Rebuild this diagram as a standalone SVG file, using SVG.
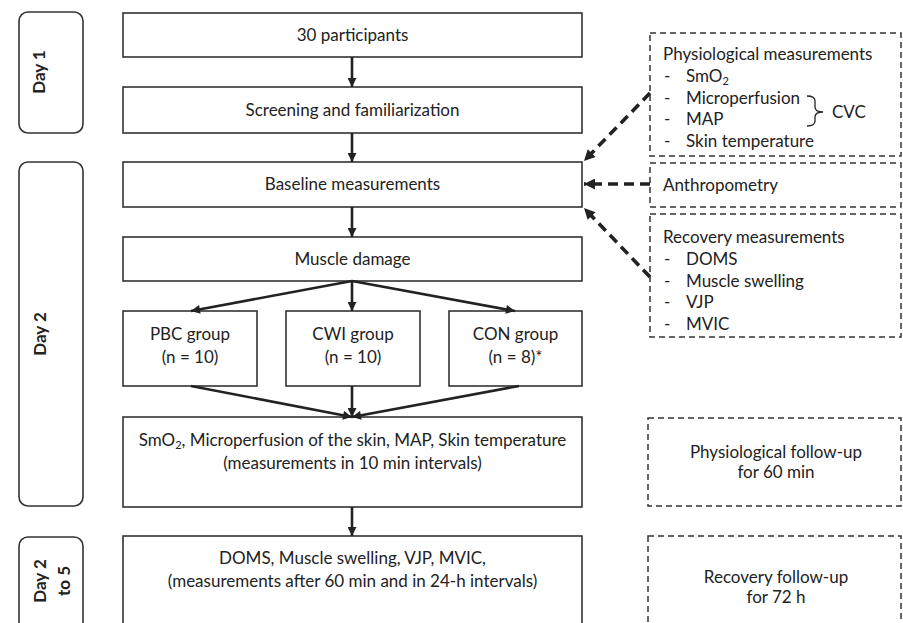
<svg xmlns="http://www.w3.org/2000/svg" width="903" height="623" viewBox="0 0 903 623">
<defs>
<style>
.box{fill:#fff;stroke:#333;stroke-width:1.6}
.day{fill:#fff;stroke:#333;stroke-width:1.6}
.dbox{fill:#fff;stroke:#333;stroke-width:1.5;stroke-dasharray:6 4}
.t{font-family:Lato,"Open Sans",sans-serif;font-size:17px;fill:#222}
.c{text-anchor:middle}
.dt{font-family:Lato,"Open Sans",sans-serif;font-size:17px;font-weight:bold;fill:#222;text-anchor:middle}
.arr{stroke:#222;stroke-width:2.6;fill:none;marker-end:url(#ah)}
.darr{stroke:#222;stroke-width:3.6;fill:none;stroke-dasharray:10 6;marker-end:url(#dh)}
</style>
<marker id="ah" viewBox="0 0 10 10" refX="10" refY="5" markerUnits="userSpaceOnUse" markerWidth="10" markerHeight="9" orient="auto"><path d="M0,0 L10,5 L0,10 z" fill="#222"/></marker>
<marker id="dh" viewBox="0 0 10 10" refX="10" refY="5" markerUnits="userSpaceOnUse" markerWidth="12" markerHeight="11" orient="auto"><path d="M0,0 L10,5 L0,10 z" fill="#222"/></marker>
</defs>
<rect width="903" height="623" fill="#fff"/>

<g id="day1"><rect class="day" x="19" y="12" width="64" height="121" rx="9"/><text class="dt" transform="translate(45,72) rotate(-90)">Day 1</text></g>
<g id="day2"><rect class="day" x="19" y="162" width="64" height="344" rx="9"/><text class="dt" transform="translate(46,334) rotate(-90)">Day 2</text></g>
<g id="day2to5"><rect class="day" x="19" y="537" width="64" height="110" rx="9"/><text class="dt" transform="translate(46,581) rotate(-90)">Day 2</text><text class="dt" transform="translate(70,581) rotate(-90)">to 5</text></g>

<g id="participants"><rect class="box" x="123" y="13" width="459" height="44"/><text class="t c" x="352.5" y="41">30 participants</text></g>
<g id="screening"><rect class="box" x="123" y="87" width="459" height="46"/><text class="t c" x="352.5" y="116">Screening and familiarization</text></g>
<g id="baseline"><rect class="box" x="123" y="162" width="459" height="45"/><text class="t c" x="352.5" y="190">Baseline measurements</text></g>
<g id="damage"><rect class="box" x="123" y="237" width="459" height="44"/><text class="t c" x="352.5" y="265">Muscle damage</text></g>
<g id="pbc"><rect class="box" x="123" y="311" width="134" height="75"/><text class="t c" x="190" y="340">PBC group</text><text class="t c" x="190" y="363">(n = 10)</text></g>
<g id="cwi"><rect class="box" x="286" y="311" width="134" height="75"/><text class="t c" x="353" y="340">CWI group</text><text class="t c" x="353" y="363">(n = 10)</text></g>
<g id="con"><rect class="box" x="449" y="311" width="133" height="75"/><text class="t c" x="515.5" y="340">CON group</text><text class="t c" x="515.5" y="363">(n = 8)*</text></g>
<g id="physio"><rect class="box" x="123" y="417" width="459" height="90"/><text class="t c" x="352.5" y="446">SmO<tspan font-size="11" dy="3">2</tspan><tspan dy="-3">, Microperfusion of the skin, MAP, Skin temperature</tspan></text><text class="t c" x="352.5" y="469">(measurements in 10 min intervals)</text></g>
<g id="recovery"><rect class="box" x="123" y="536" width="459" height="110"/><text class="t c" x="352.5" y="564">DOMS, Muscle swelling, VJP, MVIC,</text><text class="t c" x="352.5" y="587">(measurements after 60 min and in 24-h intervals)</text></g>

<g id="physmeas"><rect class="dbox" x="650" y="33" width="251" height="123"/>
<text class="t" x="663" y="60">Physiological measurements</text>
<text class="t" x="664" y="82">-</text><text class="t" x="686" y="82">SmO<tspan font-size="11" dy="3">2</tspan></text>
<text class="t" x="664" y="104">-</text><text class="t" x="686" y="104">Microperfusion</text>
<text class="t" x="664" y="125">-</text><text class="t" x="686" y="125">MAP</text>
<text class="t" x="664" y="147">-</text><text class="t" x="686" y="147">Skin temperature</text>
<path d="M807,96 Q815,96 815,101 L815,107 Q815,112 823,112 Q815,112 815,117 L815,121 Q815,126 807,126" fill="none" stroke="#222" stroke-width="1.3"/>
<text class="t" x="832" y="118">CVC</text></g>
<g id="anthro"><rect class="dbox" x="650" y="163" width="251" height="44"/><text class="t" x="663" y="191">Anthropometry</text></g>
<g id="recmeas"><rect class="dbox" x="650" y="214" width="251" height="123"/>
<text class="t" x="663" y="243">Recovery measurements</text>
<text class="t" x="664" y="265">-</text><text class="t" x="686" y="265">DOMS</text>
<text class="t" x="664" y="287">-</text><text class="t" x="686" y="287">Muscle swelling</text>
<text class="t" x="664" y="308">-</text><text class="t" x="686" y="308">VJP</text>
<text class="t" x="664" y="330">-</text><text class="t" x="686" y="330">MVIC</text></g>
<g id="physfu"><rect class="dbox" x="648" y="418" width="253" height="88"/><text class="t c" x="776" y="458">Physiological follow-up</text><text class="t c" x="776" y="478">for 60 min</text></g>
<g id="recfu"><rect class="dbox" x="648" y="536" width="253" height="110"/><text class="t c" x="776" y="583">Recovery follow-up</text><text class="t c" x="776" y="603">for 72 h</text></g>

<g id="connectors">
<line class="arr" x1="352" y1="57" x2="352" y2="87"/>
<line class="arr" x1="352" y1="133" x2="352" y2="162"/>
<line class="arr" x1="352" y1="207" x2="352" y2="237"/>
<line class="arr" x1="352" y1="281" x2="191" y2="311"/>
<line class="arr" x1="352" y1="281" x2="352" y2="311"/>
<line class="arr" x1="352" y1="281" x2="515" y2="311"/>
<line class="arr" x1="191" y1="386" x2="352" y2="417"/>
<line class="arr" x1="352" y1="386" x2="352" y2="417"/>
<line class="arr" x1="519" y1="386" x2="352" y2="417"/>
<line class="arr" x1="352" y1="507" x2="352" y2="536"/>
<line class="darr" x1="650" y1="93" x2="584" y2="161"/>
<line class="darr" x1="650" y1="184" x2="584" y2="184"/>
<line class="darr" x1="650" y1="277" x2="584" y2="208"/>
</g>
</svg>
